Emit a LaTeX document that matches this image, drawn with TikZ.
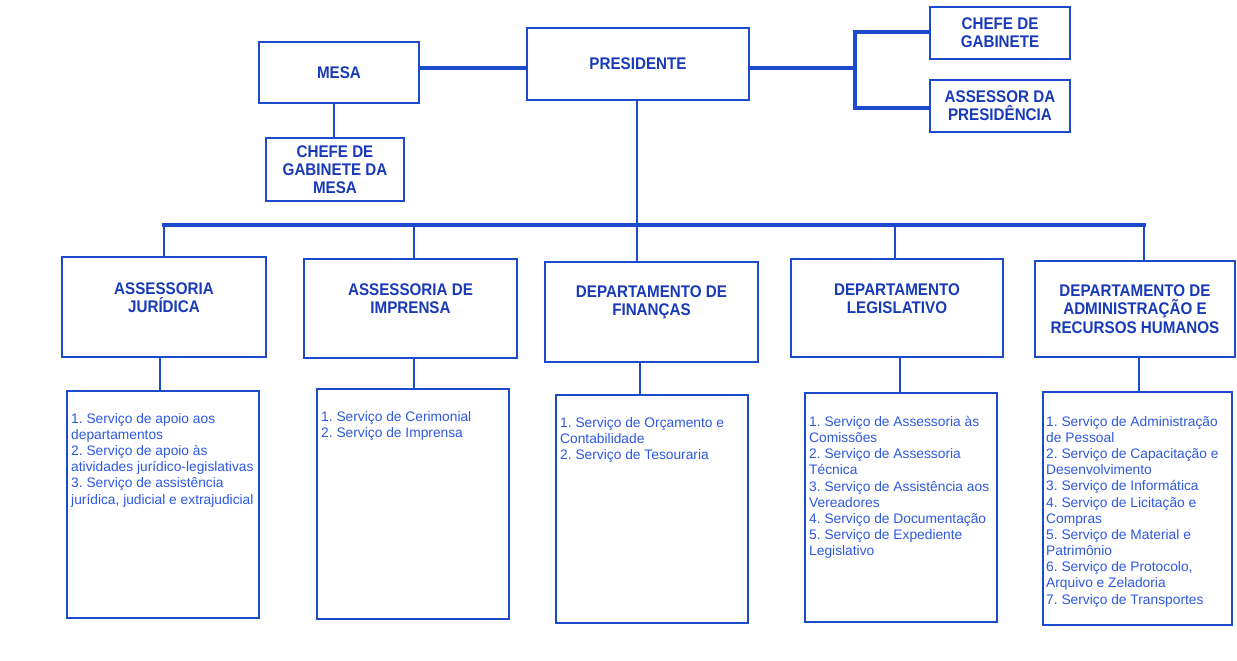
\documentclass[tikz,border=0pt]{standalone}
\usepackage{fontspec}
\setmainfont{Liberation Sans}
\newfontfamily\ttlfont[FakeStretch=0.9]{Liberation Sans}
\definecolor{lineblue}{RGB}{28,74,205}
\definecolor{titleblue}{RGB}{24,58,185}
\definecolor{listblue}{RGB}{45,88,225}
\tikzset{
  box/.style={draw=lineblue, line width=1.5pt, rectangle, inner sep=0pt, align=center,
    font=\ttlfont\bfseries\fontsize{12}{13}\selectfont, text=titleblue},
  ttl/.style={inner sep=0pt, align=center, font=\ttlfont\bfseries\fontsize{12}{13}\selectfont, text=titleblue},
  lst/.style={inner sep=0pt, align=left, anchor=north west, font=\fontsize{9.8}{11.5}\selectfont\frenchspacing, text=listblue},
  thickcon/.style={draw=lineblue, line width=3pt},
  buscon/.style={draw=lineblue, line width=2.2pt},
  con/.style={draw=lineblue, line width=1.9pt},
  thincon/.style={draw=lineblue, line width=1.4pt}
}
\begin{document}
\frenchspacing
\begin{tikzpicture}[x=0.025cm, y=-0.025cm]
\useasboundingbox (0,0) rectangle (1237,660);
% top level
\node[box, minimum width=4.0cm, minimum height=1.525cm] (MESA) at (339,72.5) {MESA};
\node[box, minimum width=5.55cm, minimum height=1.8cm] (PRES) at (638,64) {PRESIDENTE};
\node[box, minimum width=3.5cm, minimum height=1.3cm] (CG) at (1000,33) {CHEFE DE\\GABINETE};
\node[box, minimum width=3.5cm, minimum height=1.3cm] (AP) at (1000,106) {ASSESSOR DA\\PRESIDÊNCIA};
\node[box, minimum width=3.45cm, minimum height=1.575cm] (CGM) at (335,169.5) {CHEFE DE\\GABINETE DA\\MESA};
% second level
\node[box, minimum width=5.1cm, minimum height=2.5cm] (A1) at (164,307) {};
\node[box, minimum width=5.325cm, minimum height=2.475cm] (A2) at (410.5,308.5) {};
\node[box, minimum width=5.325cm, minimum height=2.5cm] (A3) at (651.5,312) {};
\node[box, minimum width=5.3cm, minimum height=2.45cm] (A4) at (897,308) {};
\node[box, minimum width=5.0cm, minimum height=2.4cm] (A5) at (1135,309) {};
\node[ttl] (A1t) at ([shift={(0,-9.5)}]A1.center) {ASSESSORIA\\JURÍDICA};
\node[ttl] (A2t) at ([shift={(0,-9.5)}]A2.center) {ASSESSORIA DE\\IMPRENSA};
\node[ttl] (A3t) at ([shift={(0,-10)}]A3.center) {DEPARTAMENTO DE\\FINANÇAS};
\node[ttl] (A4t) at ([shift={(0,-9.5)}]A4.center) {DEPARTAMENTO\\LEGISLATIVO};
\node[ttl] (A5t) at (A5.center) {DEPARTAMENTO DE\\ADMINISTRAÇÃO E\\RECURSOS HUMANOS};
% third level
\node[box, minimum width=4.8cm, minimum height=5.675cm] (B1) at (163,504.5) {};
\node[box, minimum width=4.8cm, minimum height=5.75cm] (B2) at (413,504) {};
\node[box, minimum width=4.8cm, minimum height=5.7cm] (B3) at (652,509) {};
\node[box, minimum width=4.8cm, minimum height=5.725cm] (B4) at (901,507.5) {};
\node[box, minimum width=4.725cm, minimum height=5.825cm] (B5) at (1137.5,508.5) {};
\node[lst] (B1t) at ([shift={(5,23)}]B1.north west) {1. Serviço de apoio aos\\departamentos\\2. Serviço de apoio às\\atividades jurídico-legislativas\\3. Serviço de assistência\\jurídica, judicial e extrajudicial};
\node[lst] (B2t) at ([shift={(5,23)}]B2.north west) {1. Serviço de Cerimonial\\2. Serviço de Imprensa};
\node[lst] (B3t) at ([shift={(5,23)}]B3.north west) {1. Serviço de Orçamento e\\Contabilidade\\2. Serviço de Tesouraria};
\node[lst] (B4t) at ([shift={(5,24)}]B4.north west) {1. Serviço de Assessoria às\\Comissões\\2. Serviço de Assessoria\\Técnica\\3. Serviço de Assistência aos\\Vereadores\\4. Serviço de Documentação\\5. Serviço de Expediente\\Legislativo};
\node[lst] (B5t) at ([shift={(4,25)}]B5.north west) {1. Serviço de Administração\\de Pessoal\\2. Serviço de Capacitação e\\Desenvolvimento\\3. Serviço de Informática\\4. Serviço de Licitação e\\Compras\\5. Serviço de Material e\\Patrimônio\\6. Serviço de Protocolo,\\Arquivo e Zeladoria\\7. Serviço de Transportes};
% helper coordinates
\coordinate (mp) at (470,68);
\coordinate (br) at (855,68);
\coordinate (brT) at (855,32);
\coordinate (brB) at (855,108);
\coordinate (mc) at (334,0);
\coordinate (bus) at (637,225);
\coordinate (busL) at (164,225);
\coordinate (busR) at (1144,225);
\coordinate (d2) at (414,225);
\coordinate (d4) at (895,225);
\coordinate (e1) at (160,0);
\coordinate (e2) at (414,0);
\coordinate (e3) at (640,0);
\coordinate (e4) at (900,0);
\coordinate (e5) at (1139,0);
% connectors
\draw[thickcon] (mp -| MESA.east) -- (mp -| PRES.west);
\draw[thickcon] (br -| PRES.east) -- (br);
\draw[thickcon, line join=miter] (CG.west |- brT) -- (brT) -- (brB) -- (AP.west |- brB);
\draw[thincon] (MESA.south -| mc) -- (CGM.north -| mc);
\draw[con] (PRES.south -| bus) -- (bus);
\draw[buscon, line cap=rect] (busL) -- (busR);
\draw[con] (busL) -- (busL |- A1.north);
\draw[con] (d2) -- (d2 |- A2.north);
\draw[con] (bus) -- (bus |- A3.north);
\draw[con] (d4) -- (d4 |- A4.north);
\draw[con] (busR) -- (busR |- A5.north);
\draw[con] (A1.south -| e1) -- (B1.north -| e1);
\draw[con] (A2.south -| e2) -- (B2.north -| e2);
\draw[con] (A3.south -| e3) -- (B3.north -| e3);
\draw[con] (A4.south -| e4) -- (B4.north -| e4);
\draw[con] (A5.south -| e5) -- (B5.north -| e5);
\end{tikzpicture}
\end{document}
